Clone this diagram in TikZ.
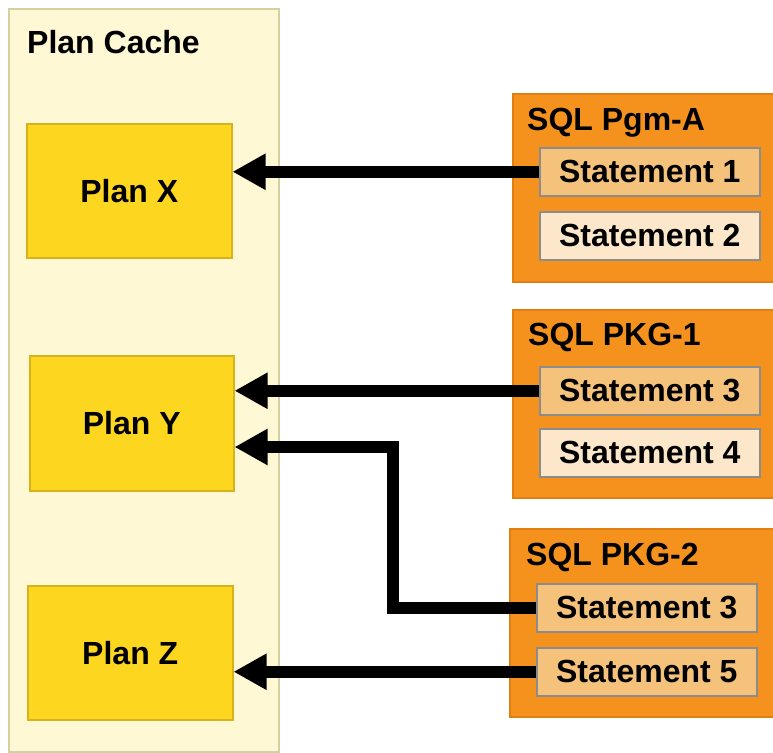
\documentclass[tikz,border=0pt]{standalone}
\usepackage{fontspec}
\setmainfont{Liberation Sans}
\usetikzlibrary{arrows.meta}
\definecolor{cachefill}{HTML}{FEF8D5}
\definecolor{cacheline}{HTML}{D5CFA3}
\definecolor{planfill}{HTML}{FDD61F}
\definecolor{planline}{HTML}{D8B21A}
\definecolor{pkgfill}{HTML}{F5921E}
\definecolor{pkgline}{HTML}{E07F10}
\definecolor{stmton}{HTML}{F5C27C}
\definecolor{stmtoff}{HTML}{FDE7CA}
\definecolor{stmtline}{HTML}{8C8C8C}
\tikzset{
  bigtext/.style={font=\fontsize{32}{38}\selectfont\bfseries},
  cache/.style={draw=cacheline,fill=cachefill,line width=2pt,anchor=north west},
  plan/.style={draw=planline,fill=planfill,line width=1.5pt,bigtext,
    minimum width=205,minimum height=134,anchor=north west},
  pkg/.style={draw=pkgline,fill=pkgfill,line width=1.5pt,anchor=north west,
    minimum width=270,minimum height=188},
  stmt/.style={draw=stmtline,line width=1.5pt,bigtext,anchor=north west,
    minimum width=220,minimum height=48},
  title/.style={bigtext,anchor=base west,inner sep=0pt},
  link/.style={line width=12pt,-{Triangle[length=33pt,width=34pt]}}
}
\begin{document}
\begin{tikzpicture}[x=1pt,y=-1pt]
  \useasboundingbox (0,0) rectangle (773,752);
  % plan cache
  \node[cache,minimum width=270,minimum height=743] (cache) at (8,8) {};
  \node[title] (cachetitle) at (27,53) {Plan Cache};
  \node[plan] (planx) at (26,123) {Plan X};
  \node[plan,minimum width=204,minimum height=135] (plany) at (29,355) {Plan Y};
  \node[plan] (planz) at (27,585) {Plan Z};
  % sql programs
  \node[pkg] (pgma) at (512,93) {};
  \node[title] (pgmatitle) at (527,130) {SQL Pgm-A};
  \node[stmt,fill=stmton] (s1) at (539,147) {Statement 1};
  \node[stmt,fill=stmtoff] (s2) at (539,211) {Statement 2};
  \node[pkg] (pkga) at (512,309) {};
  \node[title] (pkgatitle) at (528,345) {SQL PKG-1};
  \node[stmt,fill=stmton] (s3a) at (539,366) {Statement 3};
  \node[stmt,fill=stmtoff] (s4) at (539,428) {Statement 4};
  \node[pkg] (pkgb) at (509,528) {};
  \node[title] (pkgbtitle) at (526,565) {SQL PKG-2};
  \node[stmt,fill=stmton] (s3b) at (536,583) {Statement 3};
  \node[stmt,fill=stmton] (s5) at (536,647) {Statement 5};
  % links
  \coordinate (bend) at (393,447);
  \draw[link] (s1.west) -- (planx.east |- s1.west);
  \draw[link] (s3a.west) -- (plany.east |- s3a.west);
  \draw[link] (s3b.west) -| (bend) -- (plany.east |- bend);
  \draw[link] (s5.west) -- (planz.east |- s5.west);
\end{tikzpicture}
\end{document}
